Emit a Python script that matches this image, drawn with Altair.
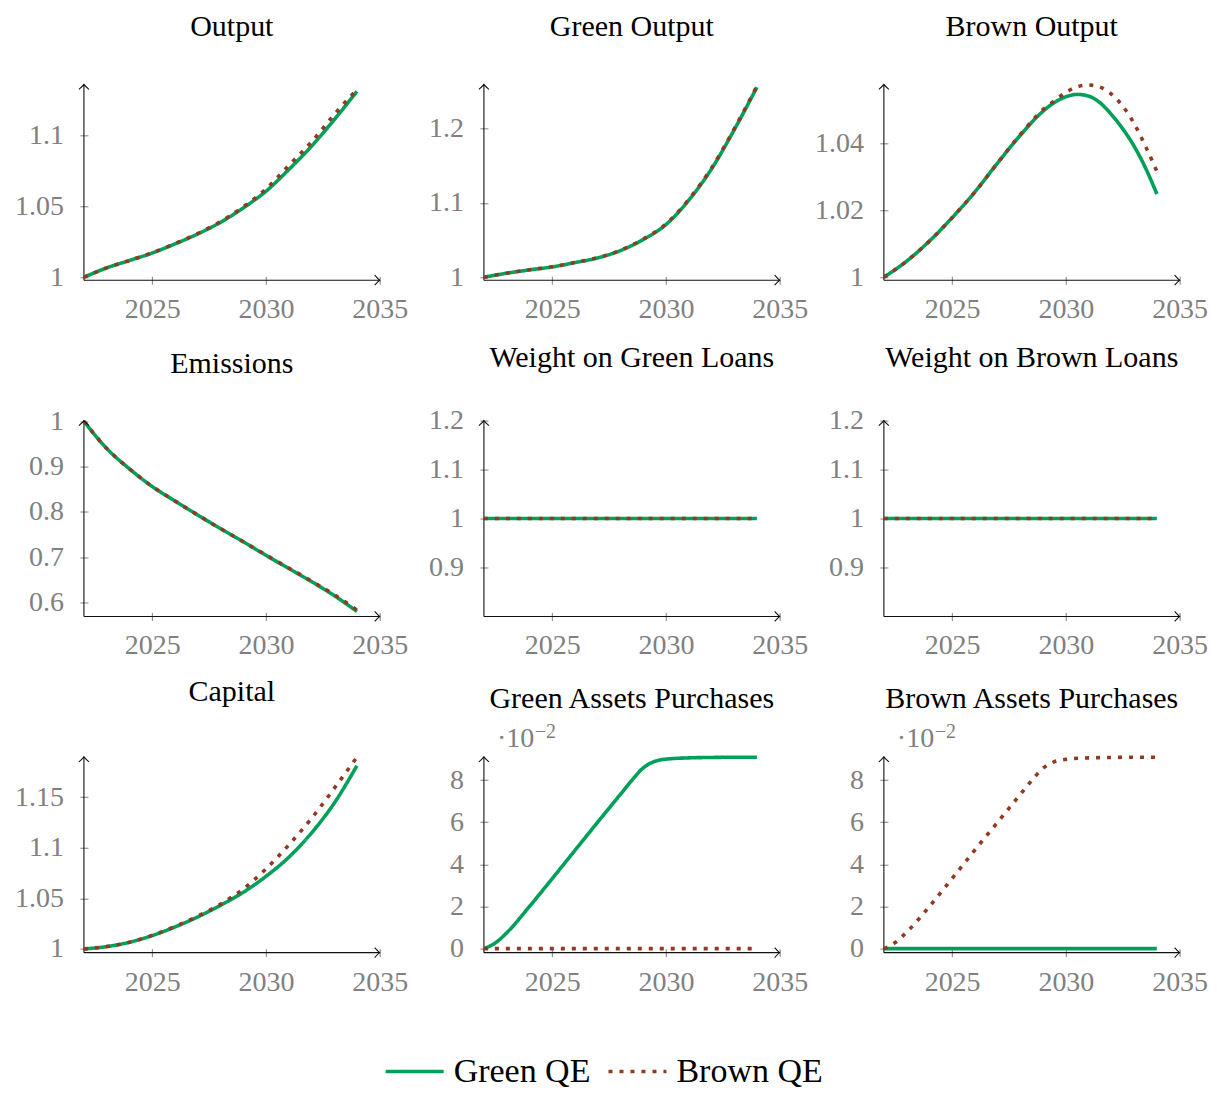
import altair as alt
import pandas as pd

# ---------------- data ----------------
SERIES = ["Green QE", "Brown QE"]

YEARS = [2022, 2023, 2024, 2025, 2026, 2027, 2028, 2029, 2030, 2031, 2032, 2033, 2034]

OUTPUT_GREEN = [1.0, 1.0066, 1.0118, 1.0171, 1.0235, 1.0305, 1.0387, 1.0488, 1.0606, 1.0758, 1.0923, 1.1110, 1.1310]
OUTPUT_BROWN = [1.0, 1.0066, 1.0118, 1.0172, 1.0237, 1.0308, 1.0392, 1.0496, 1.0622, 1.0787, 1.0953, 1.1146, 1.1322]

GOUT_GREEN = [1.0, 1.0054, 1.0099, 1.0139, 1.0197, 1.0260, 1.0359, 1.0507, 1.0709, 1.1035, 1.1455, 1.1982, 1.2556]
GOUT_BROWN = [1.0, 1.0055, 1.0100, 1.0141, 1.0199, 1.0263, 1.0363, 1.0513, 1.0716, 1.1045, 1.1467, 1.1995, 1.2570]

BOUT_YEARS = [2022, 2023, 2024, 2025, 2026, 2027, 2028, 2029, 2029.5, 2030, 2030.5, 2031,
              2031.5, 2032, 2032.5, 2033, 2033.5, 2034]
BOUT_GREEN = [1.0, 1.0048, 1.0108, 1.0178, 1.0255, 1.0342, 1.0425, 1.0497, 1.0523, 1.0540, 1.0547, 1.0542,
              1.0522, 1.0487, 1.0444, 1.0392, 1.0327, 1.0249]
BOUT_BROWN = [1.0, 1.0048, 1.0108, 1.0178, 1.0255, 1.0342, 1.0427, 1.0502, 1.0528, 1.0553, 1.0570, 1.0575,
              1.0569, 1.0548, 1.0512, 1.0460, 1.0392, 1.0317]

EMIS_GREEN = [1.0, 0.940, 0.895, 0.856, 0.824, 0.793, 0.763, 0.734, 0.704, 0.675, 0.646, 0.615, 0.580]
EMIS_BROWN = [1.0, 0.940, 0.895, 0.856, 0.824, 0.793, 0.763, 0.734, 0.705, 0.676, 0.647, 0.617, 0.583]

WGREEN_GREEN = [1.0] * 13
WGREEN_BROWN = [1.0] * 13
WBROWN_GREEN = [1.0] * 13
WBROWN_BROWN = [1.0] * 13

CAP_GREEN = [1.0, 1.0023, 1.0066, 1.0132, 1.0217, 1.0316, 1.0431, 1.0559, 1.0717, 1.0905, 1.1145, 1.1440, 1.1810]
CAP_BROWN = [1.0, 1.0023, 1.0067, 1.0134, 1.0221, 1.0323, 1.0442, 1.0592, 1.0790, 1.1026, 1.1289, 1.1586, 1.1895]

# asset purchases, in units of 10^-2
P_YEARS = [2022, 2022.5, 2023, 2024, 2025, 2026, 2027, 2028, 2028.5, 2029, 2029.5, 2030, 2031, 2032, 2033, 2034]
GPUR_GREEN = [0.0, 0.27, 0.75, 2.0, 3.32, 4.66, 6.0, 7.32, 7.98, 8.57, 8.88, 8.99, 9.05, 9.07, 9.08, 9.08]
GPUR_BROWN = [0.0] * 16
BPUR_GREEN = [0.0] * 16
BPUR_BROWN = [0.0, 0.29, 0.78, 2.0, 3.33, 4.68, 6.0, 7.32, 7.98, 8.56, 8.87, 8.98, 9.05, 9.07, 9.08, 9.08]

# ---------------- panel setup ----------------
PANELS = [
    dict(key="output", title="Output", years=YEARS, g=OUTPUT_GREEN, b=OUTPUT_BROWN,
         dom=[0.9979, 1.1359], ticks=[1, 1.05, 1.1], gap=48, sci=False),
    dict(key="gout", title="Green Output", years=YEARS, g=GOUT_GREEN, b=GOUT_BROWN,
         dom=[0.996, 1.2594], ticks=[1, 1.1, 1.2], gap=48, sci=False),
    dict(key="bout", title="Brown Output", years=BOUT_YEARS, g=BOUT_GREEN, b=BOUT_BROWN,
         dom=[0.9991, 1.0577], ticks=[1, 1.02, 1.04], gap=48, sci=False),
    dict(key="emis", title="Emissions", years=YEARS, g=EMIS_GREEN, b=EMIS_BROWN,
         dom=[0.5689, 1.0015], ticks=[0.6, 0.7, 0.8, 0.9, 1], gap=47.5, sci=False),
    dict(key="wg", title="Weight on Green Loans", years=YEARS, g=WGREEN_GREEN, b=WGREEN_BROWN,
         dom=[0.8, 1.2], ticks=[0.9, 1, 1.1, 1.2], gap=53.5, sci=False),
    dict(key="wb", title="Weight on Brown Loans", years=YEARS, g=WBROWN_GREEN, b=WBROWN_BROWN,
         dom=[0.8, 1.2], ticks=[0.9, 1, 1.1, 1.2], gap=53.5, sci=False),
    dict(key="cap", title="Capital", years=YEARS, g=CAP_GREEN, b=CAP_BROWN,
         dom=[0.9963, 1.1898], ticks=[1, 1.05, 1.1, 1.15], gap=55.5, sci=False),
    dict(key="gpur", title="Green Assets Purchases", years=P_YEARS, g=GPUR_GREEN, b=GPUR_BROWN,
         dom=[-0.19, 9.1], ticks=[0, 2, 4, 6, 8], gap=48.5, sci=True),
    dict(key="bpur", title="Brown Assets Purchases", years=P_YEARS, g=BPUR_GREEN, b=BPUR_BROWN,
         dom=[-0.19, 9.1], ticks=[0, 2, 4, 6, 8], gap=48.5, sci=True),
]

rows = []
for p in PANELS:
    for s, vals in (("Green QE", p["g"]), ("Brown QE", p["b"])):
        for yr, v in zip(p["years"], vals):
            rows.append({"panel": p["key"], "series": s, "year": yr, "value": v})
df = pd.DataFrame(rows)
one = pd.DataFrame({"k": [0]})

# ---------------- style ----------------
W, H = 296, 196
FONT = "'Liberation Serif', 'Times New Roman', 'DejaVu Serif', serif"
GRAY = "#808080"
AXIS = "#111111"
COLORS = ["#00A05A", "#93391F"]
DASHES = [[1, 0], [4, 7]]
ARROW_R = "M -1 -1 Q -0.35 -0.25 0 0 Q -0.35 0.25 -1 1"
ARROW_U = "M -1 1 Q -0.25 0.35 0 0 Q 0.25 0.35 1 1"

LEGEND = alt.Legend(
    orient="none", legendX=300, legendY=957, direction="horizontal", title=None,
    symbolType="stroke", symbolSize=3364, symbolStrokeWidth=3.6,
    labelFont=FONT, labelFontSize=34, labelColor="black", labelOffset=8,
    columnPadding=10, labelLimit=400,
)


def make_panel(p, first=False):
    base = alt.Chart(df).transform_filter(alt.datum.panel == p["key"])
    x = alt.X("year:Q",
              scale=alt.Scale(domain=[2022, 2035], nice=False, zero=False),
              axis=alt.Axis(values=[2025, 2030, 2035], format="d", title=None, domain=False,
                            grid=False, offset=-4, tickSize=8, labelPadding=11.5,
                            labelFlush=False, labelOverlap=False,
                            labelFont=FONT, labelFontSize=28, labelColor=GRAY,
                            tickColor=GRAY, tickWidth=1))
    y = alt.Y("value:Q",
              scale=alt.Scale(domain=p["dom"], nice=False, zero=False),
              axis=alt.Axis(values=p["ticks"], format="~g", title=None, domain=False,
                            grid=False, offset=-4, tickSize=8, labelPadding=16.5,
                            labelFlush=False, labelOverlap=False,
                            labelFont=FONT, labelFontSize=28, labelColor=GRAY,
                            tickColor=GRAY, tickWidth=1))
    color = alt.Color("series:N", scale=alt.Scale(domain=SERIES, range=COLORS), legend=LEGEND)
    dash = alt.StrokeDash("series:N", scale=alt.Scale(domain=SERIES, range=DASHES), legend=LEGEND)

    deco = alt.Chart(one)
    layers = [
        deco.mark_rule(color=AXIS, strokeWidth=1.1).encode(
            x=alt.value(0), x2=alt.value(W), y=alt.value(H)),
        deco.mark_rule(color=AXIS, strokeWidth=1.1).encode(
            x=alt.value(0), y=alt.value(0), y2=alt.value(H)),
    ]
    for s in SERIES:
        layers.append(
            base.transform_filter(alt.datum.series == s)
            .mark_line(strokeWidth=3.6, interpolate="monotone", strokeCap="butt")
            .encode(x=x, y=y, color=color, strokeDash=dash)
        )
    layers += [
        deco.mark_point(shape=ARROW_R, size=100, filled=False, color=AXIS, strokeWidth=1.1,
                        opacity=1).encode(x=alt.value(W), y=alt.value(H)),
        deco.mark_point(shape=ARROW_U, size=100, filled=False, color=AXIS, strokeWidth=1.1,
                        opacity=1).encode(x=alt.value(0), y=alt.value(0)),
        deco.mark_text(text=p["title"], font=FONT, fontSize=30, color="black",
                       align="center", baseline="alphabetic").encode(
            x=alt.value(W / 2), y=alt.value(-p["gap"])),
    ]
    if p["sci"]:
        layers += [
            deco.mark_text(text="\u00b710", font=FONT, fontSize=28, color=GRAY,
                           align="left", baseline="alphabetic").encode(
                x=alt.value(13), y=alt.value(-9.7)),
            deco.mark_text(text="\u22122", font=FONT, fontSize=20, color=GRAY,
                           align="left", baseline="alphabetic").encode(
                x=alt.value(51), y=alt.value(-19)),
        ]
    if first:
        layers.append(
            deco.mark_rule(color="white", strokeWidth=0.5, opacity=0).encode(
                x=alt.value(-74.7), x2=alt.value(-74.2), y=alt.value(-85), y2=alt.value(-85)))
    return alt.layer(*layers).properties(width=W, height=H)


panels = [make_panel(p, first=(i == 0)) for i, p in enumerate(PANELS)]

chart = (
    alt.concat(*panels, columns=3, spacing=alt.RowColnumber(row=140.5, column=104.3), bounds="flush")
    .properties(padding={"left": 0, "top": -10, "right": 0, "bottom": 0})
    .configure_view(stroke="transparent")
)

chart.save("out.html", embed_options={"renderer": "svg", "actions": False})
